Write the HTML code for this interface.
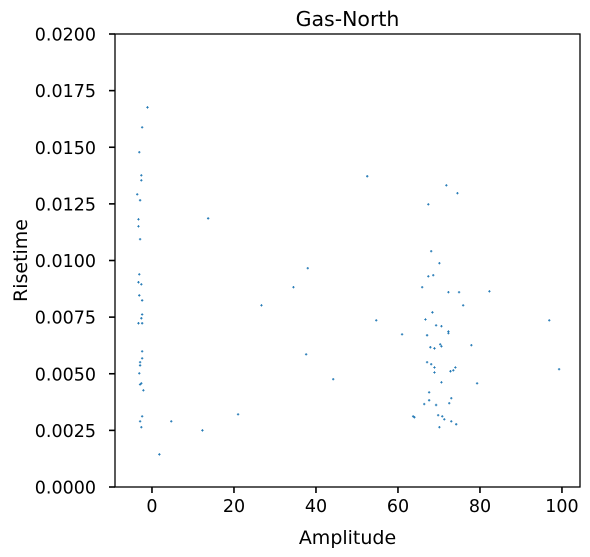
<!DOCTYPE html>
<html><head><meta charset="utf-8"><style>
html,body{margin:0;padding:0;background:#fff;}
svg{display:block;font-family:"DejaVu Sans","Liberation Sans",sans-serif;}
</style></head><body>
<svg id="chart" width="590" height="557">
<rect x="0" y="0" width="590" height="557" fill="#fff"/>
<g id="marks"></g>
<g id="axes"></g>
</svg>
<script>
const xs = [-1.1,-2.4,-3.1,-2.6,-2.6,-3.6,-2.9,13.7,-3.3,-3.3,-2.9,-3.1,-3.3,-2.6,-3.1,-2.4,-2.4,-2.6,-3.3,-2.4,-2.4,-2.4,-2.9,-2.9,-3.1,-2.9,-2.6,-2.1,-2.4,-2.9,-2.6,4.7,12.3,21.0,1.8,38.0,34.5,26.7,37.6,
52.5,71.8,74.5,67.4,68.1,70.1,67.4,68.6,65.9,72.3,74.9,82.3,75.9,68.4,66.7,54.7,96.9,69.3,70.6,72.3,72.3,61.0,67.1,70.3,70.6,77.9,67.9,68.9,67.1,68.1,68.9,74.0,73.5,72.8,68.9,99.3,44.2,70.6,79.3,67.6,73.0,67.6,72.5,66.4,69.3,63.7,64.0,69.8,70.8,71.3,73.0,74.2,70.1];
const ys = [0.01676,0.01588,0.01478,0.01376,0.01354,0.01292,0.01266,0.01186,0.01182,0.01151,0.01094,0.00939,0.00904,0.00895,0.00846,0.00824,0.00762,0.00745,0.00723,0.00723,0.00599,0.00568,0.00551,0.00537,0.00502,0.00453,0.00458,0.00427,0.00312,0.0029,0.00264,0.0029,0.0025,0.00321,0.00144,0.00966,0.00882,0.00802,0.00586,
0.01372,0.01332,0.01297,0.01248,0.01041,0.00988,0.0093,0.00935,0.00882,0.0086,0.0086,0.00864,0.00802,0.00771,0.0074,0.00736,0.00736,0.00714,0.0071,0.00687,0.00679,0.00674,0.0067,0.0063,0.00621,0.00626,0.00617,0.00612,0.00551,0.00542,0.00528,0.00528,0.00515,0.00511,0.00506,0.0052,0.00476,0.00462,0.00458,0.00418,0.00392,0.00383,0.0037,0.00366,0.00362,0.00312,0.00308,0.00317,0.00312,0.00299,0.0029,0.00277,0.00264];
const xTicks = [0,20,40,60,80,100];
const yTicks = [0,0.0025,0.005,0.0075,0.01,0.0125,0.015,0.0175,0.02];
const yTickLabels = ["0.0000","0.0025","0.0050","0.0075","0.0100","0.0125","0.0150","0.0175","0.0200"];

const L=115,R=580,T=34,B=487;
const xMin=-9.02,xMax=104.4,yMin=0,yMax=0.02;
const sx=v=>L+(v-xMin)/(xMax-xMin)*(R-L);
const sy=v=>B-(v-yMin)/(yMax-yMin)*(B-T);
const NS="http://www.w3.org/2000/svg";
function mk(tag,attrs,parent){const e=document.createElementNS(NS,tag);for(const k in attrs)e.setAttribute(k,attrs[k]);parent.appendChild(e);return e;}
const marks=document.getElementById('marks');
const axes=document.getElementById('axes');
xs.forEach((x,i)=>{
  const cx=sx(x),cy=sy(ys[i]);
  const p=mk('path',{d:`M${cx-1.2},${cy}H${cx+1.2}M${cx},${cy-1.2}V${cy+1.2}`,stroke:'#1f77b4','stroke-width':0.9},marks);
  
  
});
const frame=mk('rect',{x:L,y:T,width:R-L,height:B-T,fill:'none',stroke:'#000','stroke-width':1.3},axes);


xTicks.forEach(t=>{
  const x=sx(t);
  mk('line',{x1:x,y1:B,x2:x,y2:B+6,stroke:'#000','stroke-width':1.6},axes);
  const tx=mk('text',{x:x,y:B+25,'text-anchor':'middle','font-size':17.5,fill:'#000'},axes);
  tx.textContent=t;
  
  
});
yTicks.forEach((t,i)=>{
  const y=sy(t);
  mk('line',{x1:L-6,y1:y,x2:L,y2:y,stroke:'#000','stroke-width':1.6},axes);
  const tx=mk('text',{x:L-19,y:y+6.5,'text-anchor':'end','font-size':17.5,fill:'#000'},axes);
  tx.textContent=yTickLabels[i];
  
  
});
const title=mk('text',{x:(L+R)/2,y:26,'text-anchor':'middle','font-size':20.5,fill:'#000'},axes);
title.textContent='Gas-North';


const xl=mk('text',{x:(L+R)/2,y:544,'text-anchor':'middle','font-size':19,fill:'#000'},axes);
xl.textContent='Amplitude';


const yl=mk('text',{x:0,y:0,'text-anchor':'middle','font-size':19,fill:'#000',transform:`translate(27,${(T+B)/2}) rotate(-90)`},axes);
yl.textContent='Risetime';


</script>
</body></html>
